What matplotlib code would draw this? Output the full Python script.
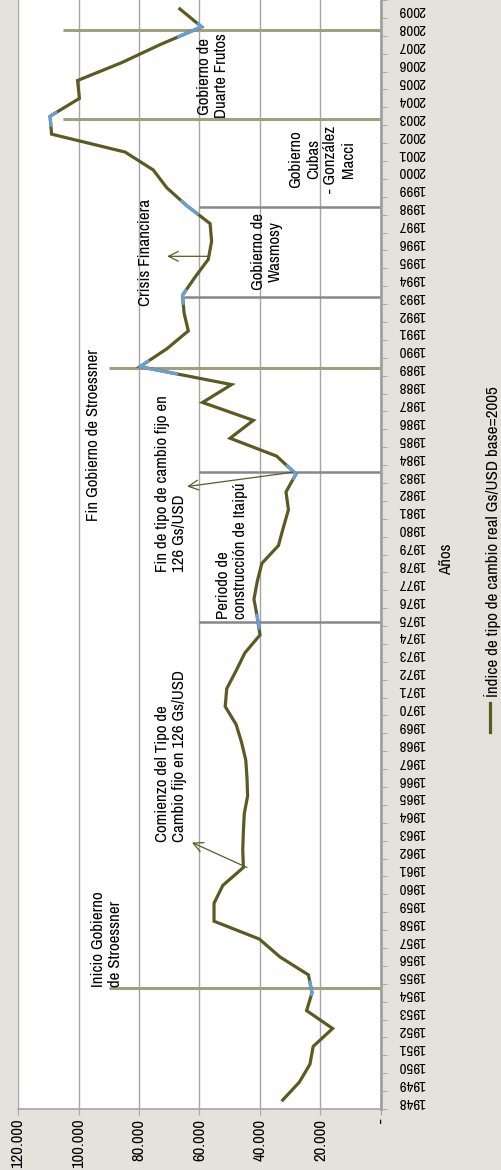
import numpy as np
import matplotlib
matplotlib.use("Agg")
import matplotlib.pyplot as plt
from matplotlib.lines import Line2D
from matplotlib.ticker import FuncFormatter, MultipleLocator

plt.rcParams['font.family'] = ['Archivo Narrow', 'DejaVu Sans']

# indice de tipo de cambio real Gs/USD base=2005
years = list(range(1948, 2010))
values = [32500, 27000, 23500, 22400, 16000, 24600, 22800, 24000, 33400, 40200,
          55200, 55200, 52300, 45500, 45700, 45500, 45200, 44100, 44300, 44700,
          46100, 47900, 51500, 51000, 47900, 45000, 40000, 40900, 42000, 40900,
          39400, 33900, 32300, 30600, 31400, 28100, 34500, 49900, 42200, 59000,
          49400, 79700, 70800, 63700, 65100, 65600, 61500, 57100, 56000, 56500,
          64200, 70800, 75300, 84600, 108900, 109400, 99700, 100300, 85700, 73100,
          59300, 66500]

# lineas de eventos (año, desde valor, tipo)
event_years = [1954.25, 1974.75, 1983.1, 1988.95, 1992.9, 1997.9, 2002.85, 2007.8]
event_from = [90000, 60000, 60000, 90000, 65000, 60000, 105000, 105000]
event_kind = ['gob', 'per', 'per', 'gob', 'per', 'per', 'gob', 'gob']

olive = '#5c5a22'
blue = '#6a9fd2'
tan = '#a19f7c'
grayline = '#86878a'
bg = '#e4e2da'

fig = plt.figure(figsize=(5.02, 11.70), dpi=100, facecolor=bg)
ax = fig.add_axes([18/502, 61/1170, 363/502, 1109/1170])
ax.set_facecolor('white')

ax.set_xlim(120000, 0)
ax.set_ylim(1947.5, 2009.5)

for v in range(20000, 120001, 20000):
    ax.axvline(v, color='#a6a6a6', lw=1.0, zorder=1)

ax.plot(values, years, color=olive, lw=2.3, zorder=3, solid_joinstyle='miter')

# tramos azules donde la serie cruza las lineas
yy = np.array(years, dtype=float)
vv = np.array(values, dtype=float)
for e in event_years:
    seg_y = np.linspace(e - 0.35, e + 0.35, 8)
    seg_y = np.unique(np.concatenate([seg_y, yy[(yy > e - 0.35) & (yy < e + 0.35)]]))
    seg_x = np.interp(seg_y, yy, vv)
    ax.plot(seg_x, seg_y, color=blue, lw=2.3, zorder=4)

for e, f, k in zip(event_years, event_from, event_kind):
    c = tan if k == 'gob' else grayline
    w = 2.2 if k == 'gob' else 1.8
    ax.plot([f, 0], [e, e], color=c, lw=w, zorder=2, solid_capstyle='butt')

txt = dict(rotation=90, fontsize=12.2, color='black', zorder=5)
ax.text(90600, 1954.3, 'Inicio Gobierno\nde Stroessner', ha='center', va='bottom',
        multialignment='left', **txt)
ax.text(69400, 1962.45, 'Comienzo del Tipo de\nCambio fijo en 126 Gs/USD', ha='center',
        va='bottom', multialignment='left', **txt)
ax.text(49300, 1974.9, 'Periodo de\nconstrucción de Itaipú', ha='center', va='bottom',
        multialignment='left', **txt)
ax.text(69400, 1977.5, 'Fin de tipo de cambio fijo en\n126 Gs/USD', ha='center', va='bottom',
        multialignment='left', **txt)
ax.text(95200, 1980.35, 'Fin Gobierno de Stroessner', ha='center', va='bottom', **txt)
ax.text(78000, 1992.4, 'Crisis Financiera', ha='center', va='bottom', **txt)
ax.text(37700, 1995.45, 'Gobierno de\nWasmosy', ha='center', va='center',
        multialignment='center', **txt)
ax.text(19500, 2000.6, 'Gobierno\nCubas\n- González\nMacci', ha='center', va='center',
        multialignment='center', **txt)
ax.text(55500, 2005.25, 'Gobierno de\nDuarte Frutos', ha='center', va='center',
        multialignment='center', **txt)

arrow = dict(arrowstyle='->,head_length=0.7,head_width=0.35', color=olive, lw=0.9,
             shrinkA=0, shrinkB=0)
ax.annotate('', xy=(62500, 1962.4), xytext=(44300, 1961.0), arrowprops=arrow, zorder=5)
ax.annotate('', xy=(64100, 1982.3), xytext=(29100, 1983.1), arrowprops=arrow, zorder=5)
ax.annotate('', xy=(70700, 1995.17), xytext=(57200, 1995.17), arrowprops=arrow, zorder=5)

# ejes
for s in ['top', 'left']:
    ax.spines[s].set_visible(False)
ax.spines['right'].set_color('#a0a0a0')
ax.spines['right'].set_linewidth(2)
ax.spines['bottom'].set_color('#a6a6a6')
ax.spines['bottom'].set_linewidth(1.2)

ax.yaxis.tick_right()
ax.set_yticks(years)
ax.set_yticklabels([str(y) for y in years], rotation=180, fontsize=10.8)
ax.yaxis.set_minor_locator(MultipleLocator(1, offset=0.5))
ax.tick_params(axis='y', which='major', length=0, pad=12)
ax.tick_params(axis='y', which='minor', length=4, color='#a0a0a0', direction='out')

ax.set_xticks(range(0, 120001, 20000))
ax.xaxis.set_major_formatter(FuncFormatter(
    lambda v, p: '-' if v == 0 else f'{int(v):,}'.replace(',', '.')))
ax.tick_params(axis='x', length=4, color='#a6a6a6', pad=3, labelsize=12, labelrotation=90)

fig.text(447/502, 1 - 559/1170, 'Años', rotation=90, ha='center', va='center', fontsize=12.2)

# leyenda
fig.add_artist(Line2D([490/502, 490/502], [1 - 732/1170, 1 - 703/1170], color=olive, lw=2.3))
fig.text(492/502, 1 - 697/1170, 'Índice de tipo de cambio real Gs/USD base=2005',
         rotation=90, ha='center', va='bottom', fontsize=12.3)

fig.savefig('out.png', dpi=100, facecolor=bg)
